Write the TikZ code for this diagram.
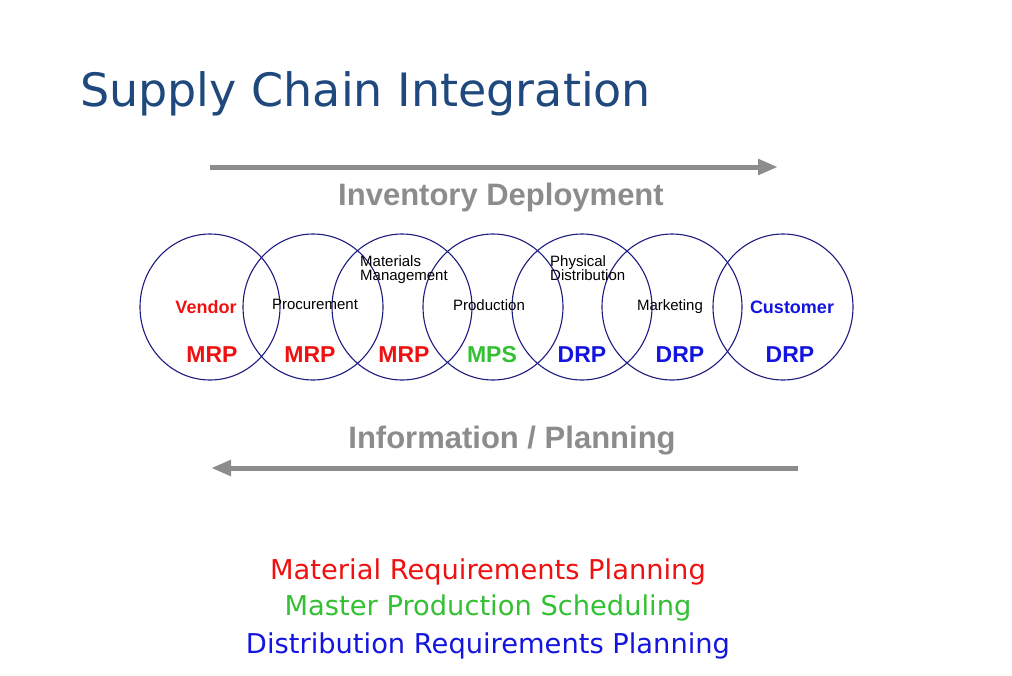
\documentclass[tikz,border=0pt]{standalone}
\usepackage{fontspec}
\setmainfont{Liberation Sans}
\newfontfamily\tahomalike{DejaVu Sans}
\usetikzlibrary{arrows.meta}

\definecolor{titleblue}{HTML}{1F497D}
\definecolor{flowgray}{HTML}{8C8C8C}
\definecolor{ringblue}{HTML}{1C1C80}
\definecolor{mrpred}{HTML}{F01010}
\definecolor{mpsgreen}{HTML}{33C033}
\definecolor{drpblue}{HTML}{1414E0}

\tikzset{
  ring/.style={draw=ringblue, line width=1.1pt},
  flow/.style={draw=flowgray, line width=5pt, -{Triangle[length=20pt,width=15pt]}},
  flowtext/.style={text=flowgray, font=\fontsize{31}{33}\selectfont\bfseries},
  stage/.style={font=\fontsize{15}{14}\selectfont, inner sep=0pt},
  party/.style={font=\fontsize{18}{19}\selectfont\bfseries, inner sep=0pt},
  plan/.style={font=\fontsize{23}{25}\selectfont\bfseries, inner sep=0pt},
  legend/.style={font=\tahomalike\fontsize{27.3}{30}\selectfont, inner sep=0pt}
}

\begin{document}
\begin{tikzpicture}[x=1pt,y=-1pt]
  \useasboundingbox (0,0) rectangle (1012,675);
  % title
  \node[anchor=base west, inner sep=0pt, text=titleblue,
        font=\tahomalike\fontsize{46}{50}\selectfont] (title) at (80,106)
       {Supply Chain Integration};
  % forward flow
  \coordinate (invL) at (210,167);
  \coordinate (invR) at (778,167);
  \draw[flow] (invL) -- (invR);
  \node[flowtext] (inv) at (501,197) {Inventory Deployment};
  % chain of rings
  \foreach \cx/\nm in {210/vendor,313/procure,402/material,493/produce,582/physical,672/market,783/customer}
    \draw[ring] (\cx,307) ellipse[x radius=70pt, y radius=73pt] coordinate (r-\nm);
  % ring labels
  \node[party, text=mrpred]   (vendor)   at (206,307) {Vendor};
  \node[stage]                (procure)  at (315,304) {Procurement};
  \node[stage, align=left, anchor=north west] (material) at (360,255) {Materials\\Management};
  \node[stage]                (produce)  at (489,305) {Production};
  \node[stage, align=left, anchor=north west] (physical) at (550,255) {Physical\\Distribution};
  \node[stage]                (market)   at (670,307) {Marketing};
  \node[party, text=drpblue]  (customer) at (792,307) {Customer};
  % planning methods
  \node[plan, text=mrpred]   (p1) at (212,355) {MRP};
  \node[plan, text=mrpred]   (p2) at (310,355) {MRP};
  \node[plan, text=mrpred]   (p3) at (404,355) {MRP};
  \node[plan, text=mpsgreen] (p4) at (492,355) {MPS};
  \node[plan, text=drpblue]  (p5) at (582,355) {DRP};
  \node[plan, text=drpblue]  (p6) at (680,355) {DRP};
  \node[plan, text=drpblue]  (p7) at (790,355) {DRP};
  % backward flow
  \node[flowtext] (info) at (512,441) {Information / Planning};
  \coordinate (infR) at (798,468);
  \coordinate (infL) at (211,468);
  \draw[flow] (infR) -- (infL);
  % legend
  \node[legend, text=mrpred]   (l1) at (488,572) {Material Requirements Planning};
  \node[legend, text=mpsgreen] (l2) at (488,608) {Master Production Scheduling};
  \node[legend, text=drpblue]  (l3) at (488,646) {Distribution Requirements Planning};
\end{tikzpicture}
\end{document}
